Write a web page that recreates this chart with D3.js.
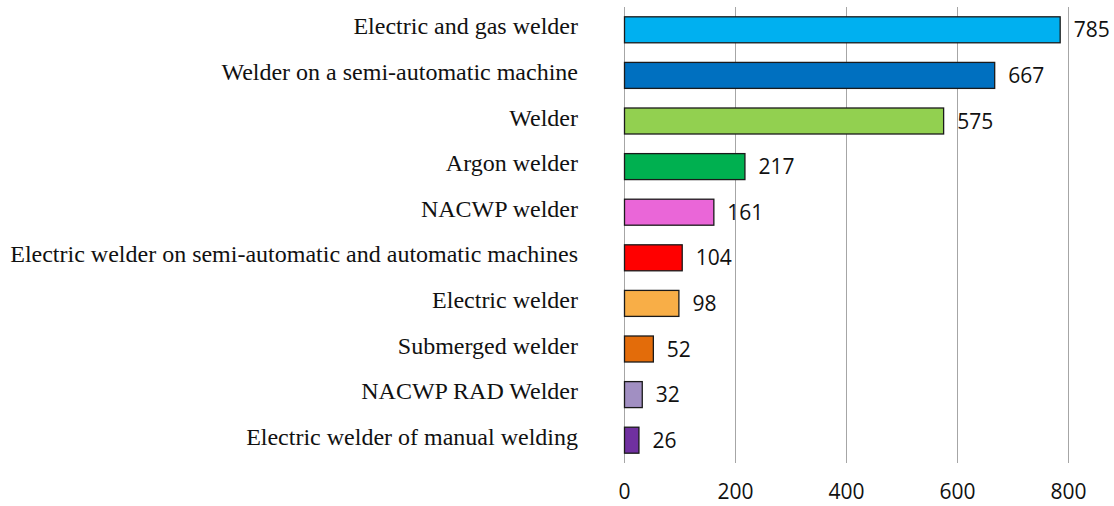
<!DOCTYPE html>
<meta charset="utf-8">
<style>
body { margin: 0; background: #fff; }
.cat { font-family: "Liberation Serif", "Times New Roman", serif; font-size: 24px; fill: #111; }
.val, .tick text { font-family: "Open Sans", sans-serif; font-size: 21px; fill: #111; }
</style>
<svg width="1114" height="506"></svg>
<script src="https://d3js.org/d3.v7.min.js"></script>
<script>
var categories = ["Electric and gas welder", "Welder on a semi-automatic machine", "Welder",
  "Argon welder", "NACWP welder", "Electric welder on semi-automatic and automatic machines",
  "Electric welder", "Submerged welder", "NACWP RAD Welder", "Electric welder of manual welding"];
var values = [785, 667, 575, 217, 161, 104, 98, 52, 32, 26];
var colors = ["#00b0f0", "#0070c0", "#92d050", "#00b050", "#ea66d8",
  "#ff0000", "#f8ae47", "#e36c0a", "#a18fc2", "#7030a0"];
var tickValues = [0, 200, 400, 600, 800];

var svg = d3.select("svg");
var plotLeft = 624, plotRight = 1068, plotTop = 7, plotBottom = 463;

var x = d3.scaleLinear().domain([0, 800]).range([plotLeft, plotRight]);
var y = d3.scaleBand().domain(categories).range([plotTop, plotBottom])
          .paddingInner(0.43).paddingOuter(0.215);

// gridlines
svg.append("g")
   .selectAll("line")
   .data(tickValues)
   .enter().append("line")
     .attr("x1", d => x(d) + 0.5)
     .attr("x2", d => x(d) + 0.5)
     .attr("y1", plotTop)
     .attr("y2", plotBottom)
     .attr("stroke", "#a6a6a6")
     .attr("stroke-width", 1);

// x axis labels
var axis = svg.append("g")
   .attr("transform", "translate(0," + plotBottom + ")")
   .call(d3.axisBottom(x).tickValues(tickValues).tickSize(0).tickPadding(21));
axis.select(".domain").remove();
axis.selectAll("text").attr("fill", "#111");

// bars
var rows = svg.append("g")
   .selectAll("g")
   .data(values)
   .enter().append("g");

rows.append("rect")
     .attr("x", x(0) + 0.5)
     .attr("y", (d, i) => y(categories[i]))
     .attr("width", d => x(d) - x(0))
     .attr("height", y.bandwidth())
     .attr("fill", (d, i) => colors[i])
     .attr("stroke", "#1a1a1a")
     .attr("stroke-width", 1.3);

rows.append("text")
     .attr("class", "val")
     .attr("x", d => x(d) + 14)
     .attr("y", (d, i) => y(categories[i]) + y.bandwidth() / 2 + 2)
     .attr("dominant-baseline", "middle")
     .text(d => d);

// category labels
svg.append("g")
   .selectAll("text")
   .data(categories)
   .enter().append("text")
     .attr("class", "cat")
     .attr("x", 578)
     .attr("y", d => y(d) + y.bandwidth() / 2 - 1)
     .attr("text-anchor", "end")
     .attr("dominant-baseline", "middle")
     .text(d => d);
</script>
